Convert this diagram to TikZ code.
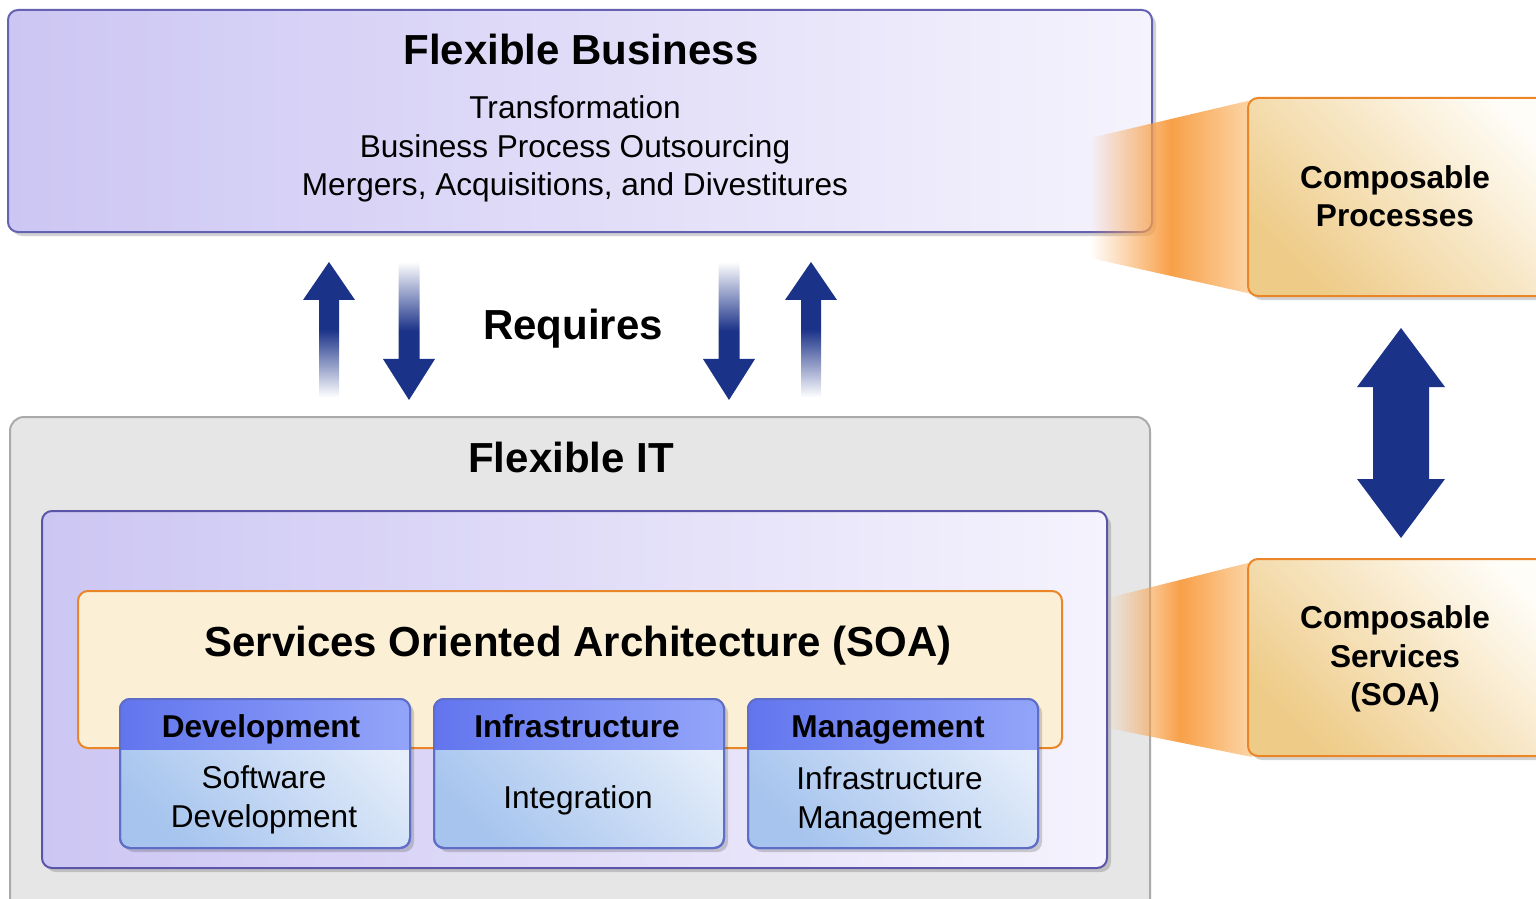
\documentclass[tikz,border=0pt]{standalone}
\usepackage{fontspec}
\setmainfont{Liberation Sans}
\usetikzlibrary{shadows,fadings}
\definecolor{navy}{RGB}{27,50,137}
\definecolor{bizB}{RGB}{102,98,178}
\definecolor{lavL}{RGB}{204,198,243}
\definecolor{lavR}{RGB}{245,243,253}
\definecolor{grayF}{RGB}{230,230,230}
\definecolor{grayB}{RGB}{170,170,170}
\definecolor{purB}{RGB}{90,85,168}
\definecolor{soaF}{RGB}{251,240,214}
\definecolor{oraB}{RGB}{234,134,40}
\definecolor{subB}{RGB}{94,110,198}
\definecolor{hdrL}{RGB}{98,117,238}
\definecolor{hdrR}{RGB}{147,165,249}
\definecolor{bodL}{RGB}{166,196,238}
\definecolor{bodR}{RGB}{230,238,250}
\definecolor{tanL}{RGB}{238,203,135}
\definecolor{tanR}{RGB}{255,253,248}
\definecolor{orS}{RGB}{248,160,72}
\definecolor{orL}{RGB}{252,214,168}
\tikzfading[name=funfade, left color=transparent!100, right color=transparent!0, middle color=transparent!0]
\tikzfading[name=fadebot, top color=transparent!0, bottom color=transparent!100, middle color=transparent!0]
\tikzfading[name=fadetop, top color=transparent!100, bottom color=transparent!0, middle color=transparent!0]
\begin{document}
\begin{tikzpicture}[x=0.5pt,y=-0.5pt,
  every node/.style={outer sep=0pt, inner sep=0pt},
  big/.style={font=\fontsize{21}{25}\selectfont\bfseries, text height=0.75em, text depth=0.22em},
  small/.style={font=\fontsize{15.8}{19.25}\selectfont, align=center},
  smallb/.style={font=\fontsize{15.8}{19.25}\selectfont\bfseries, align=center},
  hdr/.style={smallb, text height=0.75em, text depth=0.22em},
  softshadow/.style={drop shadow={shadow xshift=2pt, shadow yshift=-2pt, opacity=0.25, fill=black!70}},
  bizbox/.style={draw=bizB, line width=1pt, rounded corners=5pt, left color=lavL, right color=lavR, softshadow},
  itbox/.style={draw=grayB, line width=1pt, rounded corners=7pt, fill=grayF},
  purbox/.style={draw=purB, line width=1pt, rounded corners=5pt, left color=lavL, right color=lavR, softshadow},
  soabox/.style={draw=oraB, line width=1pt, rounded corners=5pt, fill=soaF},
  subbox/.style={draw=subB, line width=1pt, rounded corners=5pt, left color=bodL, right color=bodR, shading angle=135, softshadow, minimum width=145pt, minimum height=74.5pt},
  compbox/.style={draw=oraB, line width=1pt, rounded corners=5pt, left color=tanL, right color=tanR, shading angle=135, softshadow, minimum width=161pt},
  funnel/.style={left color=orS, right color=orL, middle color=orS, path fading=funfade},
  uparrow/.style={fill=navy, path fading=fadebot},
  downarrow/.style={fill=navy, path fading=fadetop}
]
\useasboundingbox (0,0) rectangle (1536,899);
\clip (0,0) rectangle (1536,899);

% Flexible Business
\node[bizbox, minimum width=572pt, minimum height=111pt] (biz) at (580,121) {};
\node[big] (biztitle) at (581,59) {Flexible Business};
\node[small] (bizlines) at (575,149) {Transformation\\Business Process Outsourcing\\Mergers, Acquisitions, and Divestitures};

% funnel to Composable Processes
\shade[funnel] (1090,138) -- (1252,100) -- (1252,294) -- (1090,258) -- cycle;
\node[compbox, minimum height=99pt] (cproc) at (1409,197) {};
\node[smallb] (cproctext) at (1395,196) {Composable\\Processes};

% Requires arrows
\path[uparrow] (329,262) -- (355,300) -- (339,300) -- (339,397) -- (319,397) -- (319,300) -- (303,300) -- cycle;
\path[downarrow] (409,400) -- (435,359) -- (419.5,359) -- (419.5,262) -- (398.5,262) -- (398.5,359) -- (383,359) -- cycle;
\path[downarrow] (729,400) -- (755,359) -- (739.5,359) -- (739.5,262) -- (718.5,262) -- (718.5,359) -- (703,359) -- cycle;
\path[uparrow] (811,262) -- (837,300) -- (821,300) -- (821,397) -- (801,397) -- (801,300) -- (785,300) -- cycle;
\node[big] (requires) at (573,334) {Requires};

% Flexible IT
\node[itbox, minimum width=570pt, minimum height=261.5pt] (it) at (580,678.5) {};
\node[big] (ittitle) at (571,467) {Flexible IT};
\node[purbox, minimum width=532.5pt, minimum height=178.5pt] (pur) at (574.5,689.5) {};
\node[soabox, minimum width=492pt, minimum height=78.5pt] (soa) at (570,669.5) {};
\node[big] (soatitle) at (578,651) {Services Oriented Architecture (SOA)};

% sub boxes
\foreach \n/\cx in {dev/265, inf/579, man/893} {
  \node[subbox] (\n) at (\cx,773.5) {};
  \begin{scope}
    \clip[rounded corners=5pt] (\n.north west) rectangle (\n.south east);
    \shade[left color=hdrL, right color=hdrR] (\n.north west) rectangle ([yshift=-25pt]\n.north east);
  \end{scope}
  \draw[subB, line width=1pt, rounded corners=5pt] (\n.north west) rectangle (\n.south east);
}
\node[hdr] (devh) at (261,732) {Development};
\node[hdr] (infh) at (577,732) {Infrastructure};
\node[hdr] (manh) at (888,732) {Management};
\node[small] (devb) at (264,800) {Software\\Development};
\node[small, text height=0.75em, text depth=0.22em] (infb) at (578,803) {Integration};
\node[small] (manb) at (889.5,801) {Infrastructure\\Management};

% funnel to Composable Services
\shade[funnel] (1108,598) -- (1252,562) -- (1252,757) -- (1108,728) -- cycle;
\node[compbox, minimum height=98.5pt] (cserv) at (1409,657.5) {};
\node[smallb] (cservtext) at (1395,659) {Composable\\Services\\(SOA)};

% double arrow
\fill[navy] (1401,328) -- (1445,387) -- (1429,387) -- (1429,479) -- (1445,479) -- (1401,538) -- (1357,479) -- (1373,479) -- (1373,387) -- (1357,387) -- cycle;
\end{tikzpicture}
\end{document}
